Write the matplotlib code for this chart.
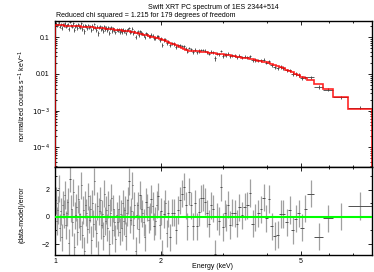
import numpy as np
import matplotlib
matplotlib.use("Agg")
import matplotlib.pyplot as plt

plt.rcParams['font.family'] = ['Liberation Sans', 'DejaVu Sans']

# bin edges (keV)
edges = [
    1.000, 1.007, 1.014, 1.021, 1.028, 1.035, 1.042, 1.049, 1.056, 1.063,
    1.070, 1.077, 1.085, 1.092, 1.099, 1.107, 1.114, 1.122, 1.129, 1.137,
    1.144, 1.152, 1.160, 1.167, 1.175, 1.183, 1.191, 1.199, 1.207, 1.215,
    1.223, 1.231, 1.239, 1.247, 1.256, 1.264, 1.272, 1.281, 1.289, 1.298,
    1.306, 1.315, 1.324, 1.332, 1.341, 1.350, 1.359, 1.368, 1.377, 1.386,
    1.395, 1.404, 1.414, 1.423, 1.432, 1.442, 1.451, 1.461, 1.470, 1.480,
    1.490, 1.500,
    1.510, 1.520, 1.531, 1.541, 1.552, 1.562, 1.573, 1.584, 1.595, 1.606,
    1.617, 1.628, 1.640, 1.651, 1.663, 1.675, 1.687, 1.699, 1.711, 1.724,
    1.737, 1.750, 1.763, 1.777, 1.791, 1.805, 1.820, 1.835, 1.851, 1.867,
    1.884, 1.901, 1.918, 1.936, 1.954, 1.972, 1.990, 2.009, 2.028, 2.047,
    2.066, 2.086, 2.106,
    2.133, 2.160, 2.188, 2.216, 2.245, 2.274, 2.303, 2.333, 2.363, 2.393,
    2.424, 2.455, 2.487, 2.519, 2.551, 2.584, 2.617, 2.651, 2.685, 2.719,
    2.754, 2.789, 2.825, 2.861, 2.898, 2.935, 2.973, 3.011, 3.050, 3.089,
    3.129, 3.169, 3.210,
    3.26, 3.31, 3.37, 3.43, 3.49, 3.55, 3.61, 3.67, 3.74, 3.81,
    3.88, 3.95, 4.02, 4.09, 4.17, 4.25, 4.33, 4.41, 4.50, 4.59,
    4.68, 4.78, 4.88, 4.98, 5.08,
    5.20, 5.44, 5.78, 6.16, 6.80, 7.95,
]

# folded model, counts/s/keV, one value per bin
model = [
    0.215, 0.214, 0.214, 0.213, 0.212, 0.212, 0.211, 0.210, 0.210, 0.209,
    0.208, 0.207, 0.207, 0.206, 0.205, 0.204, 0.204, 0.203, 0.202, 0.201,
    0.200, 0.200, 0.199, 0.198, 0.197, 0.196, 0.195, 0.195, 0.194, 0.193,
    0.192, 0.191, 0.190, 0.189, 0.188, 0.187, 0.186, 0.185, 0.184, 0.183,
    0.182, 0.181, 0.180, 0.179, 0.178, 0.177, 0.176, 0.175, 0.174, 0.173,
    0.172, 0.171, 0.170, 0.168, 0.167, 0.166, 0.165, 0.164, 0.163, 0.162,
    0.160,
    0.159, 0.158, 0.157, 0.155, 0.154, 0.153, 0.151, 0.150, 0.148, 0.147,
    0.146, 0.144, 0.142, 0.141, 0.139, 0.137, 0.136, 0.134, 0.132, 0.130,
    0.128, 0.126, 0.124, 0.121, 0.119, 0.117, 0.115, 0.113, 0.110, 0.108,
    0.105, 0.103, 0.101, 0.098, 0.096, 0.093, 0.091, 0.088, 0.085, 0.083,
    0.080, 0.077, 0.074,
    0.071, 0.067, 0.064, 0.061, 0.057, 0.054, 0.050, 0.047, 0.045, 0.044,
    0.0435, 0.043, 0.0425, 0.042, 0.0415, 0.041, 0.040, 0.0395, 0.039, 0.0385,
    0.038, 0.0375, 0.037, 0.0365, 0.036, 0.0355, 0.035, 0.034, 0.0335, 0.033,
    0.0325, 0.032, 0.031,
    0.0305, 0.0298, 0.029, 0.028, 0.0272, 0.0265, 0.0257, 0.0249, 0.0241, 0.0232,
    0.0223, 0.0214, 0.0206, 0.0197, 0.0186, 0.0175, 0.0164, 0.0153, 0.0143, 0.0132,
    0.0121, 0.0111, 0.0101, 0.0092, 0.0084,
    0.0076, 0.0069, 0.0052, 0.0038, 0.0023, 0.0011,
]

# (data-model)/error per bin
resid = [
    1.2, -0.3, 0.5, 2.1, -0.8, 0.4, -1.5, 0.9, 0.2, 1.6,
    -0.6, 0.3, 1.1, -1.9, 2.8, 0.6, -0.4, 1.8, -2.2, 0.1,
    0.7, -1.1, 1.3, 0.2, -0.7, 2.3, -1.3, 0.5, -2.5, 0.9,
    0.3, -0.9, 1.5, -0.2, 0.6, -1.7, 1.0, -0.5, 2.6, 0.0,
    -1.2, 0.8, -2.8, 0.4, 1.2, -0.6, 0.2, -1.4, 1.7, -0.3,
    0.5, -0.8, 0.9, -2.0, 0.3, 1.4, -1.0, 0.6, -0.4, -1.6,
    0.1,
    -0.4, 0.6, -1.1, 0.2, -0.8, 1.0, -0.3, 0.5, -1.4, 0.3,
    1.2, 2.6, -0.2, 0.4, 2.3, -0.6, 0.85, -2.5, 0.1, 0.85,
    -0.9, 1.6, 0.6, 0.25, -0.4, -1.5, 1.1, 0.7, -0.2, 0.0,
    1.3, 0.8, -0.7, -0.3, 0.9, 1.5, -0.6, 0.4, -2.7, 0.2,
    1.0, -1.2, 0.25,
    -1.5, 0.3, 0.3, -1.0, 0.5, 1.2, 1.7, 2.2, 0.85, -0.7,
    1.85, 0.85, -0.7, 1.0, -0.7, 0.35, 1.35, 1.4, 1.1, 0.25,
    -0.5, 0.85, 0.6, -2.7, 0.0, -0.3, 2.15, -0.75, 0.25, -0.05,
    0.9, -0.6, 0.3,
    0.25, -0.5, 0.7, 0.1, 0.75, 0.85, 1.75, -0.5, -0.05, 0.25,
    0.55, 1.4, -0.1, 1.3, -0.7, -1.4, -1.3, 0.2, 0.2, -0.4,
    0.5, -1.0, -0.15, 0.25, -0.8,
    0.6, 1.7, -1.45, -0.1, 0.0, 0.8,
]

rel_err = 0.10  # typical fractional error of a bin

title = "Swift XRT PC spectrum of 1ES 2344+514"
subtitle = "Reduced chi squared = 1.215 for 179 degrees of freedom"

edges_a = np.array(edges)
model_a = np.array(model)
resid_a = np.array(resid)
lo, hi = edges_a[:-1], edges_a[1:]
cen = np.sqrt(lo * hi)
err = model_a * rel_err
data = model_a + resid_a * err

fig = plt.figure(figsize=(3.74, 2.72), dpi=100)
ax1 = fig.add_axes([0.1471, 0.386, 0.8476, 0.5368])
ax2 = fig.add_axes([0.1471, 0.0625, 0.8476, 0.3235], sharex=ax1)

# top panel: data and model
ax1.errorbar(cen, data, yerr=err, xerr=[cen - lo, hi - cen], fmt='none',
             ecolor='#404040', elinewidth=0.6, zorder=2)
ax1.stairs(model_a, edges_a, color='red', lw=1.2, alpha=0.85, zorder=3)
ax1.set_xscale('log')
ax1.set_yscale('log')
ax1.set_xlim(1.0, 7.95)
ax1.set_ylim(2.9e-5, 0.278)
ax1.set_yticks([0.1, 0.01, 1e-3, 1e-4], ['0.1', '0.01', r'$10^{-3}$', r'$10^{-4}$'])
ax1.tick_params(labelbottom=False)

# bottom panel: residuals (light vertical bars, darker bin-width marks)
ax2.errorbar(cen, resid_a, yerr=1.0, fmt='none',
             ecolor='#a0a0a0', elinewidth=0.9, zorder=2)
ax2.errorbar(cen, resid_a, xerr=[cen - lo, hi - cen], fmt='none',
             ecolor='#505050', elinewidth=0.7, zorder=2)
ax2.axhline(0, color='#00ff00', lw=1.5, zorder=3)
ax2.set_ylim(-2.8, 3.65)
ax2.set_yticks([-2, 0, 2])
ax2.set_yticks([-1, 1, 3], minor=True)
ax2.set_xticks([1, 2, 5], ['1', '2', '5'])
ax2.set_xticks([3, 4, 6, 7], minor=True)
ax2.xaxis.set_minor_formatter(matplotlib.ticker.NullFormatter())

for ax in (ax1, ax2):
    ax.tick_params(which='both', direction='in', top=True, right=True,
                   labelsize=5, width=0.6)
    ax.tick_params(which='major', length=3, pad=2.5)
    ax.tick_params(which='minor', length=1.5)
    ax.tick_params(axis='y', pad=4)
    for s in ax.spines.values():
        s.set_linewidth(1.0)

fig.text(0.571, 1 - 7.5 / 272, title, ha='center', va='center', fontsize=5)
fig.text(0.150, 1 - 15.5 / 272, subtitle, ha='left', va='center', fontsize=5)
fig.text(22 / 374, 1 - 96 / 272, r'normalized counts s$^{-1}$ keV$^{-1}$',
         rotation=90, ha='center', va='center', fontsize=5)
fig.text(22 / 374, 1 - 215 / 272, '(data-model)/error',
         rotation=90, ha='center', va='center', fontsize=5)
fig.text(213 / 374, 1 - 266.5 / 272, 'Energy (keV)', ha='center', va='center',
         fontsize=5)

fig.savefig('out.png', dpi=100)
